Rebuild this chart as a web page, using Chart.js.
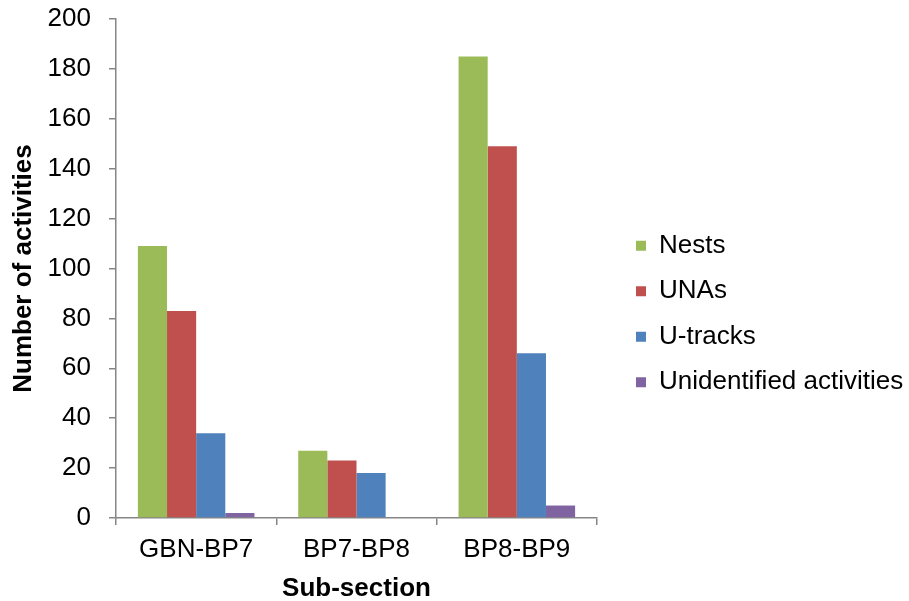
<!DOCTYPE html>
<html>
<head>
<meta charset="utf-8">
<style>
  html, body { margin: 0; padding: 0; background: #ffffff; }
  #wrap { width: 909px; height: 601px; }
</style>
<script src="https://cdn.jsdelivr.net/npm/chart.js@4/dist/chart.umd.min.js"></script>
</head>
<body>
<div id="wrap"><canvas id="chart" width="909" height="601"></canvas></div>
<script>
// Activities counted per sub-section
const categories = ['GBN-BP7', 'BP7-BP8', 'BP8-BP9'];
const nests = [109, 27, 185];
const unas = [83, 23, 149];
const uTracks = [34, 18, 66];
const unidentified = [2, 0, 5];
const yTicks = [0, 20, 40, 60, 80, 100, 120, 140, 160, 180, 200];

const FONT = '"Liberation Sans", Arial, Helvetica, sans-serif';
const AXIS_GREY = '#868686';

const seriesDefs = [
  { label: 'Nests', data: nests, color: '#9BBB59' },
  { label: 'UNAs', data: unas, color: '#C0504D' },
  { label: 'U-tracks', data: uTracks, color: '#4F81BD' },
  { label: 'Unidentified activities', data: unidentified, color: '#8064A2' }
];

const ctx = document.getElementById('chart').getContext('2d');
new Chart(ctx, {
  type: 'bar',
  data: {
    labels: categories,
    datasets: seriesDefs.map(s => ({
      label: s.label,
      data: s.data,
      backgroundColor: s.color,
      borderWidth: 0,
      categoryPercentage: 0.727,
      barPercentage: 1.0,
      yAxisID: 'y'
    }))
  },
  options: {
    responsive: false,
    animation: false,
    devicePixelRatio: 1,
    layout: { padding: { top: 19, right: 0, bottom: -8, left: 0 } },
    plugins: {
      tooltip: { enabled: false },
      legend: {
        position: 'right',
        align: 'center',
        maxWidth: 292.5,
        labels: {
          color: '#000000',
          font: { family: FONT, size: 26 },
          boxWidth: 10,
          boxHeight: 10,
          padding: 19.5
        }
      }
    },
    scales: {
      x: {
        grid: {
          display: true,
          drawOnChartArea: false,
          drawTicks: true,
          tickLength: 7,
          color: AXIS_GREY,
          lineWidth: 1.5,
          offset: true
        },
        border: { display: true, color: AXIS_GREY, width: 1.5 },
        ticks: {
          color: '#000000',
          font: { family: FONT, size: 26 },
          padding: 9,
          maxRotation: 0
        },
        title: {
          display: true,
          text: 'Sub-section',
          color: '#000000',
          font: { family: FONT, size: 26, weight: 'bold' },
          padding: { top: 0, bottom: 5 }
        },
        afterFit(scale) { scale.height = 91; }
      },
      y: {
        min: 0,
        max: 200,
        afterBuildTicks(scale) { scale.ticks = yTicks.map(v => ({ value: v })); },
        grid: {
          display: true,
          drawOnChartArea: false,
          drawTicks: true,
          tickLength: 7,
          color: AXIS_GREY,
          lineWidth: 1.5
        },
        border: { display: true, color: AXIS_GREY, width: 1.5 },
        ticks: {
          color: '#000000',
          font: { family: FONT, size: 26 },
          padding: 18
        },
        title: {
          display: true,
          text: 'Number of activities',
          color: '#000000',
          font: { family: FONT, size: 26, weight: 'bold' },
          padding: { top: 8, bottom: 4 }
        },
        afterFit(scale) {
          scale.width = 116;
          scale.paddingTop = 0;
          scale.paddingBottom = 0;
        }
      },
      // empty strip that keeps the plot clear of the legend
      gap: {
        type: 'linear',
        position: 'right',
        display: true,
        grid: { display: false },
        border: { display: false },
        ticks: { display: false },
        afterFit(scale) {
          scale.width = 19.5;
          scale.paddingTop = 0;
          scale.paddingBottom = 0;
        }
      }
    }
  }
});
</script>
</body>
</html>
